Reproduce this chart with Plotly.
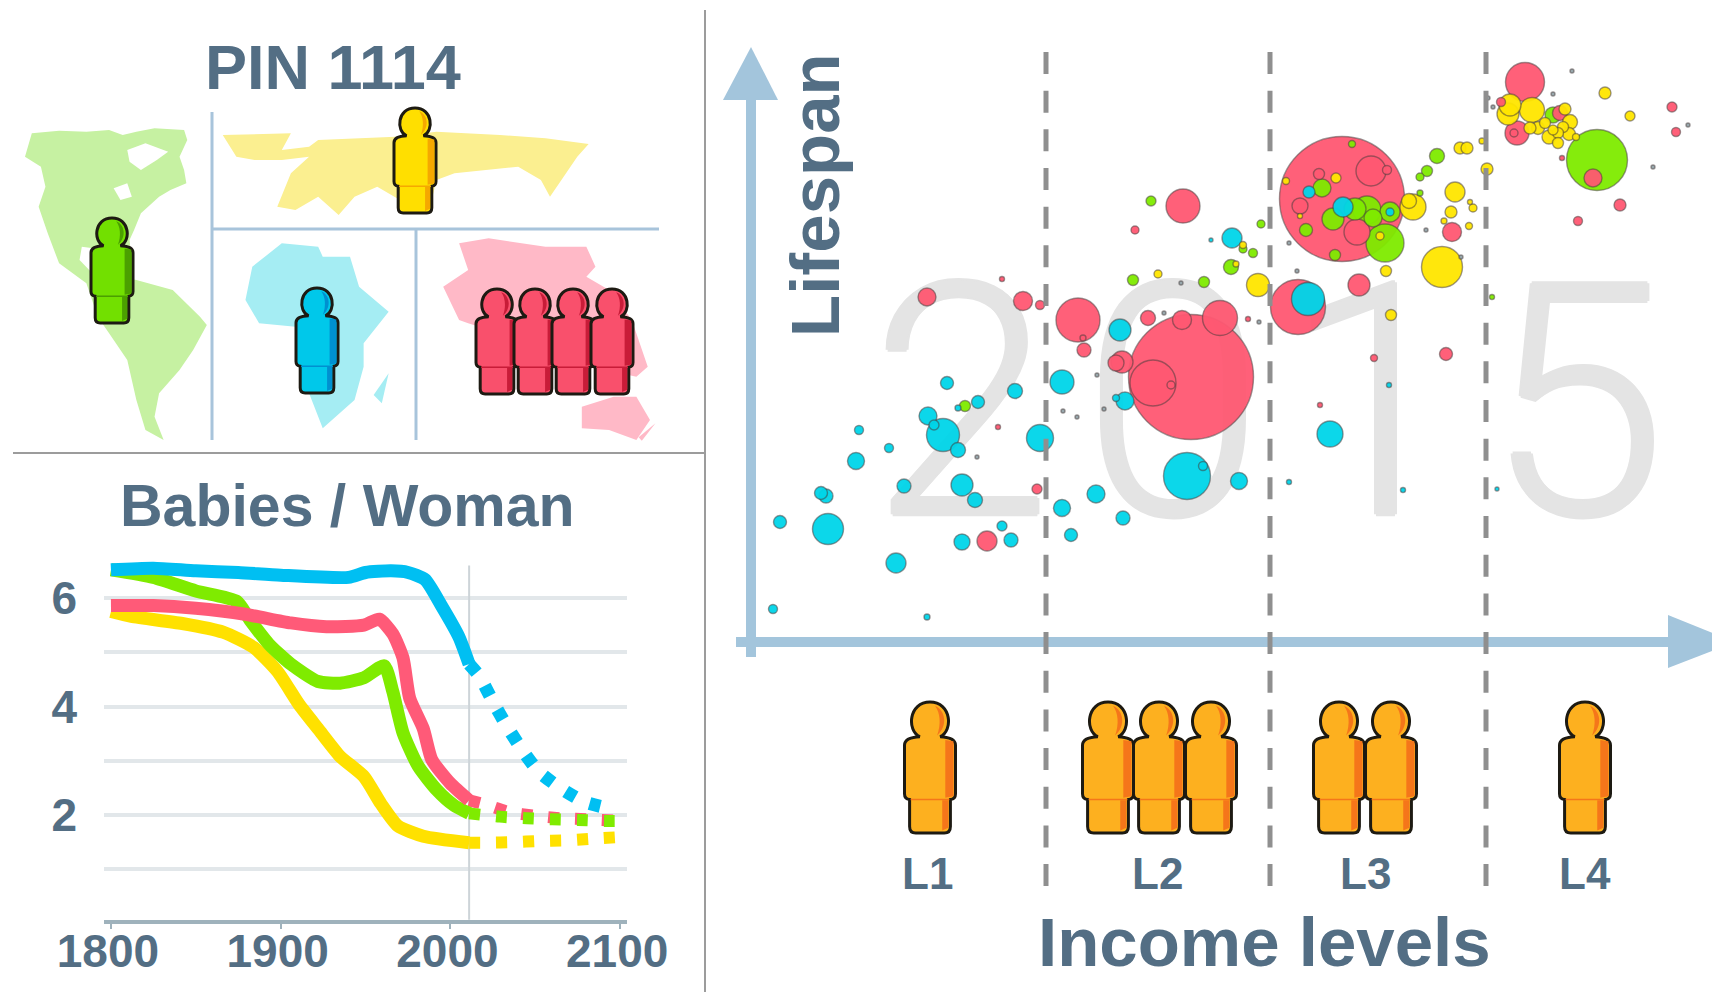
import plotly.graph_objects as go

W, H = 1712, 992
INK = "#536e84"
FONT = "Liberation Sans"
ARROW = "#a3c5dc"

# ---------- Babies / Woman ----------
year_ticks = [1800, 1900, 2000, 2100]
baby_ticks = [1, 2, 3, 4, 5, 6]
baby_labels = ["", "2", "", "4", "", "6"]
now_year = 2011

africa_year = [1800, 1825, 1850, 1875, 1900, 1940, 1950, 1965, 1975, 1985, 1995, 2005, 2011]
africa_baby = [6.52, 6.55, 6.50, 6.47, 6.42, 6.38, 6.47, 6.50, 6.47, 6.34, 5.84, 5.28, 4.78]
africa_year_f = [2011, 2017, 2025, 2033, 2042, 2052, 2065, 2079, 2095]
africa_baby_f = [4.78, 4.56, 4.09, 3.65, 3.21, 2.80, 2.49, 2.24, 2.11]

americas_year = [1800, 1825, 1850, 1874, 1882, 1893, 1906, 1922, 1935, 1949, 1961, 1966, 1972, 1981, 1992, 2002, 2011]
americas_baby = [6.52, 6.38, 6.13, 5.94, 5.59, 5.15, 4.78, 4.46, 4.43, 4.53, 4.75, 4.28, 3.52, 2.90, 2.46, 2.18, 2.03]
americas_year_f = [2011, 2029, 2045, 2060, 2075, 2091, 2103]
americas_baby_f = [2.03, 1.97, 1.94, 1.92, 1.91, 1.89, 1.89]

asia_year = [1800, 1825, 1850, 1879, 1906, 1927, 1949, 1958, 1966, 1972, 1976, 1984, 1989, 2000, 2011]
asia_baby = [5.86, 5.86, 5.81, 5.70, 5.54, 5.47, 5.50, 5.61, 5.34, 4.90, 4.15, 3.59, 3.02, 2.58, 2.27]
asia_year_f = [2011, 2020, 2035, 2049, 2065, 2082, 2096]
asia_baby_f = [2.27, 2.20, 2.05, 1.99, 1.94, 1.92, 1.90]

europe_year = [1800, 1812, 1842, 1866, 1884, 1898, 1911, 1922, 1935, 1949, 1959, 1969, 1984, 2011]
europe_baby = [5.75, 5.66, 5.53, 5.37, 5.09, 4.65, 4.03, 3.59, 3.08, 2.71, 2.21, 1.80, 1.61, 1.49]
europe_year_f = [2011, 2021, 2037, 2052, 2067, 2082, 2098]
europe_baby_f = [1.49, 1.49, 1.50, 1.52, 1.53, 1.56, 1.59]

# ---------- Bubbles: income index, lifespan, population size ----------
income_cuts = [30.6, 53.0, 74.6]
income_labels = ["L1", "L2", "L3", "L4"]
year_digits = ["2", "0", "1", "5"]
year_digit_inc = [22.1, 43.3, 63.5, 83.6]
year_digit_life = [46.7, 46.7, 46.7, 46.7]

asia_inc = [60.2, 45.1, 63.1, 64.7, 57.9, 56.0, 61.7, 55.8, 61.9, 48.0, 71.2, 78.5, 77.7, 77.4, 76.1, 82.0, 82.2, 85.3, 93.2, 93.6, 88.0, 83.8, 50.8, 44.3, 39.5, 18.7, 28.3, 30.0, 26.2, 33.8, 40.8, 44.2, 24.7, 29.7, 41.3, 43.1, 38.2, 37.6, 34.4, 34.3, 25.8, 63.4, 70.6, 58.0]
asia_life = [70.1, 52.3, 72.9, 73.0, 72.6, 69.4, 66.8, 59.3, 61.5, 58.2, 66.8, 81.8, 76.7, 76.7, 79.8, 78.7, 74.2, 72.2, 79.3, 76.8, 69.5, 67.9, 58.1, 69.4, 67.0, 60.3, 59.9, 59.5, 62.1, 58.0, 58.2, 58.0, 35.9, 41.1, 51.7, 51.5, 53.8, 53.7, 55.0, 56.2, 47.3, 54.2, 54.6, 49.5]
asia_pop = [125, 125, 30, 9, 11, 16, 26, 55, 22, 35, 19, 39, 24, 8, 9, 15, 5, 18, 10, 9, 12, 9, 5, 34, 8, 18, 19, 9, 5, 44, 15, 19, 20, 10, 46, 8, 22, 16, 14, 6, 5, 7, 13, 5]

africa_inc = [60.3, 56.9, 65.0, 49.2, 47.1, 56.8, 20.7, 23.8, 27.5, 18.8, 20.3, 19.4, 21.8, 11.9, 14.9, 11.6, 16.4, 22.2, 23.5, 30.0, 32.2, 38.5, 37.6, 44.7, 46.3, 35.6, 32.2, 38.3, 33.1, 8.1, 8.6, 4.0, 8.8, 15.6, 22.2, 27.1, 26.2, 3.3, 18.7, 38.0, 21.8, 49.9, 59.0, 54.9, 64.9, 66.3, 75.7]
africa_life = [69.3, 70.8, 68.8, 66.2, 66.0, 60.1, 51.7, 49.8, 50.9, 48.4, 46.5, 47.5, 45.0, 47.0, 45.2, 43.9, 41.4, 41.5, 40.0, 46.2, 51.8, 49.9, 50.2, 42.4, 43.4, 40.6, 39.2, 38.2, 36.5, 40.7, 40.4, 37.8, 37.1, 33.7, 35.8, 36.0, 37.4, 29.1, 28.3, 57.0, 49.2, 41.9, 46.6, 41.8, 51.5, 41.0, 41.1]
africa_pop = [20, 12, 8, 20, 4, 33, 13, 13, 15, 18, 33, 10, 15, 9, 9, 17, 14, 22, 15, 27, 24, 18, 7, 47, 9, 18, 17, 14, 13, 13, 14, 13, 31, 20, 16, 14, 10, 9, 6, 22, 6, 17, 26, 5, 5, 5, 4]

americas_inc = [85.7, 69.7, 68.7, 68.0, 68.0, 65.0, 62.7, 63.3, 59.3, 64.5, 58.2, 56.6, 59.5, 61.2, 49.1, 50.3, 51.3, 52.1, 46.4, 81.3, 75.2, 41.1, 39.3, 22.5, 61.5]
americas_life = [74.0, 74.4, 72.9, 72.3, 70.7, 68.8, 69.0, 68.2, 68.1, 65.7, 71.2, 67.0, 64.5, 75.6, 63.3, 65.1, 64.7, 67.6, 61.8, 78.5, 60.3, 69.9, 62.0, 49.4, 69.1]
americas_pop = [61, 15, 11, 8, 6, 20, 28, 18, 22, 38, 18, 13, 11, 7, 15, 8, 9, 8, 11, 16, 5, 10, 11, 11, 22]

europe_inc = [67.3, 66.9, 71.5, 71.1, 73.3, 73.0, 72.9, 70.4, 70.2, 64.6, 65.1, 51.8, 64.0, 59.6, 54.6, 56.0, 72.0, 72.7, 74.2, 74.7, 76.8, 77.0, 79.2, 86.5, 89.0, 82.5, 83.0, 82.9, 82.3, 81.8, 80.9, 81.8, 79.8, 80.5, 79.0, 83.6, 81.3, 50.3, 49.6, 41.8]
europe_life = [69.3, 69.9, 70.8, 68.8, 69.2, 69.8, 67.4, 67.9, 63.3, 62.9, 58.5, 61.5, 66.4, 72.2, 71.9, 68.4, 75.2, 75.2, 75.9, 73.1, 78.6, 79.5, 79.0, 80.7, 78.4, 79.1, 77.8, 76.6, 77.3, 76.7, 76.3, 75.7, 77.2, 77.7, 77.2, 76.3, 77.0, 65.5, 63.6, 62.6]
europe_pop = [26, 15, 20, 12, 8, 5, 7, 6, 41, 11, 11, 23, 8, 10, 7, 5, 12, 12, 6, 12, 22, 22, 25, 12, 10, 12, 15, 13, 11, 11, 14, 11, 13, 11, 12, 7, 10, 7, 6, 8]

tiny_inc = [83.2, 81.3, 91.3, 94.8, 68.6, 55.7, 54.9, 74.8, 75.3, 72.1, 44.1, 42.4, 23.7, 32.3, 33.7, 36.4, 35.7, 51.9]
tiny_life = [82.9, 80.6, 73.3, 77.5, 67.0, 62.9, 65.7, 80.2, 79.3, 64.3, 61.7, 58.7, 44.3, 48.9, 48.3, 49.1, 52.5, 57.8]
tiny_pop = [4] * len(tiny_inc)

C_ASIA, C_AFRICA, C_AMERICAS, C_EUROPE = "#ff5872", "#00d5e9", "#7feb00", "#ffe600"
TINY = "#93a3a8"

map_americas = [(55,470),(70,400),(130,392),(190,395),(240,390),(270,405),(300,395),(340,385),(405,390),(412,420),(395,470),(405,510),(410,550),(375,570),(350,590),(310,640),(295,690),(285,720),(290,790),(240,770),(205,745),(180,740),(175,780),(200,815),(300,840),(380,870),(440,950),(455,975),(425,1050),(395,1110),(350,1180),(340,1250),(360,1320),(320,1290),(300,1200),(280,1080),(240,1000),(215,950),(190,850),(130,790),(105,700),(85,620),(100,560),(90,500)]
map_hudson = [(280,450),(320,430),(370,455),(345,480),(310,510),(285,485)]
map_lakes = [(250,565),(280,550),(290,590),(265,600)]
map_europe = [(490,405),(640,400),(620,450),(680,440),(700,420),(870,410),(960,395),(1100,405),(1200,415),(1295,432),(1270,470),(1240,530),(1210,590),(1190,540),(1140,500),(1000,520),(960,540),(950,600),(880,600),(830,560),(780,590),(745,645),(700,590),(650,630),(610,620),(640,520),(680,470),(620,480),(560,480),(520,470)]
map_africa = [(620,730),(700,740),(710,770),(770,770),(790,860),(855,935),(800,1030),(800,1100),(780,1200),(710,1285),(680,1180),(660,1100),(650,980),(570,970),(540,900),(555,800)]
map_madagascar = [(855,1120),(840,1210),(822,1185)]
map_asia = [(1010,730),(1075,715),(1200,740),(1290,740),(1310,800),(1290,830),(1340,870),(1390,960),(1425,1100),(1400,1130),(1300,1100),(1100,1000),(1030,970),(1010,960),(975,860),(1030,810)]
map_australia = [(1280,1220),(1350,1190),(1400,1190),(1430,1260),(1400,1320),(1340,1290),(1280,1285)]
map_nz = [(1442,1270),(1412,1322),(1405,1312)]


def P(x, y):
    return f"{x / W:.5f},{1 - y / H:.5f}"


def poly(points, sx=2.2, sy=3.0):
    return "M " + " L ".join(P(x / sx, y / sy) for x, y in points) + " Z"


def rect(x0, y0, x1, y1):
    return f"M {P(x0, y0)} L {P(x1, y0)} L {P(x1, y1)} L {P(x0, y1)} Z"


shapes = []


def add_path(path, fill, line=None, width=0, layer="above"):
    shapes.append(dict(type="path", xref="paper", yref="paper", path=path, fillcolor=fill,
                       line=dict(color=line or "rgba(0,0,0,0)", width=width), layer=layer))


def add_line(x0, y0, x1, y1, color, width, layer="above"):
    shapes.append(dict(type="line", xref="paper", yref="paper", x0=x0 / W, x1=x1 / W,
                       y0=1 - y0 / H, y1=1 - y1 / H, line=dict(color=color, width=width), layer=layer))


def person(cx, top, h, w, fill, shade):
    def p(dx, dy):
        return P(cx + dx * w, top + dy * h)
    sil = (f"M {p(-.2,.265)} C {p(-.46,.22)} {p(-.42,0)} {p(0,0)} C {p(.42,0)} {p(.46,.22)} {p(.2,.265)} "
           f"Q {p(.5,.27)} {p(.5,.33)} L {p(.5,.70)} Q {p(.5,.74)} {p(.4,.745)} L {p(.4,.95)} Q {p(.4,1)} {p(.28,1)} "
           f"L {p(-.28,1)} Q {p(-.4,1)} {p(-.4,.95)} L {p(-.4,.745)} Q {p(-.5,.74)} {p(-.5,.70)} L {p(-.5,.33)} "
           f"Q {p(-.5,.27)} {p(-.2,.265)} Z")
    add_path(sil, fill, "#1d1a12", 3)
    add_path(f"M {p(.3,.29)} L {p(.46,.30)} L {p(.46,.72)} L {p(.3,.73)} Z", shade)
    add_path(f"M {p(.24,.75)} L {p(.36,.75)} L {p(.36,.96)} L {p(.24,.98)} Z", shade)
    add_path(f"M {p(.1,.03)} C {p(.3,.06)} {p(.36,.18)} {p(.14,.255)} C {p(.22,.17)} {p(.2,.08)} {p(.1,.03)} Z", shade)
    add_line(cx - .38 * w, top + .745 * h, cx + .38 * w, top + .745 * h, shade, 1.5)


# Panel separators and region dividers
add_line(705, 10, 705, 992, "#9c9c9c", 2)
add_line(13, 453, 705, 453, "#9c9c9c", 2)

# Maps
for pts, col in [(map_americas, "#c6f1a2"), (map_europe, "#fbef90"), (map_africa, "#a5edf3"),
                 (map_madagascar, "#a5edf3"), (map_asia, "#ffb9c7"), (map_australia, "#ffb9c7"),
                 (map_nz, "#ffb9c7")]:
    add_path(poly(pts), col, layer="below")
add_path(poly(map_hudson), "white", layer="below")
add_path(poly(map_lakes), "white", layer="below")

add_line(212, 112, 212, 440, "#a8c4db", 3)
add_line(212, 229, 659, 229, "#a8c4db", 3)
add_line(416, 229, 416, 440, "#a8c4db", 3)

# Region people
person(415, 108, 105, 42, "#ffdf00", "#f5a800")
person(112, 218, 105, 42, "#72e000", "#4ba000")
person(317, 288, 105, 42, "#00c8ea", "#0090d0")
for cx in (497, 535, 573, 612):
    person(cx, 289, 105, 42, "#f9506c", "#c81c38")

# Income people
for cx in (930, 1108, 1159, 1211, 1339, 1391, 1585):
    person(cx, 702, 131, 51, "#fdb01f", "#f5761a")

# Arrows
add_path(rect(746, 95, 756, 657), ARROW)
add_path(f"M {P(751,47)} L {P(778,100)} L {P(723,100)} Z", ARROW)
add_path(rect(736, 637, 1675, 647), ARROW)
add_path(f"M {P(1668,615)} L {P(1735,642)} L {P(1668,668)} Z", ARROW)

# Income-level dividers on the bubble income scale
for c in income_cuts:
    shapes.append(dict(type="line", xref="x2", yref="paper", x0=c, x1=c, y0=1 - 52 / H, y1=1 - 886 / H,
                       line=dict(color="#8f8f8f", width=5, dash="22px,16.67px"), layer="above"))

fig = go.Figure()


def line_trace(xs, ys, color, width=13, dash=None):
    fig.add_trace(go.Scatter(x=xs, y=ys, mode="lines", cliponaxis=False, hoverinfo="skip",
                             line=dict(color=color, width=width, shape="spline", smoothing=0.6, dash=dash)))


L_CYAN, L_GREEN, L_RED, L_YEL = "#00bff2", "#7feb00", "#ff5a78", "#ffe100"
fig.add_trace(go.Scatter(x=[now_year, now_year], y=[0.07, 6.6], mode="lines", hoverinfo="skip",
                         line=dict(color="#cdd4d8", width=2)))
dot = "11px,16px"
line_trace(africa_year_f, africa_baby_f, L_CYAN, 13, dot)
line_trace(asia_year_f, asia_baby_f, L_RED, 12, dot)
line_trace(americas_year_f, americas_baby_f, L_GREEN, 12, dot)
line_trace(europe_year_f, europe_baby_f, L_YEL, 12, dot)
line_trace(europe_year, europe_baby, L_YEL)
line_trace(americas_year, americas_baby, L_GREEN)
line_trace(asia_year, asia_baby, L_RED)
line_trace(africa_year, africa_baby, L_CYAN)

# Year watermark behind the bubbles
WM = "#e4e4e4"
fig.add_trace(go.Scatter(x=year_digit_inc, y=year_digit_life, mode="text", text=year_digits, xaxis="x2", yaxis="y2",
                         textposition="middle center", hoverinfo="skip", cliponaxis=False,
                         textfont=dict(family="Roboto", size=325, color=WM, weight=300,
                                       shadow=f"2px 0 0 {WM},-2px 0 0 {WM},0 2px 0 {WM},0 -2px 0 {WM}")))

# Bubbles: largest first so small ones sit on top
rows = []
for xs, ys, ss, col in [(asia_inc, asia_life, asia_pop, C_ASIA), (africa_inc, africa_life, africa_pop, C_AFRICA),
                        (americas_inc, americas_life, americas_pop, C_AMERICAS), (europe_inc, europe_life, europe_pop, C_EUROPE),
                        (tiny_inc, tiny_life, tiny_pop, TINY)]:
    rows += [(x, y, s, col) for x, y, s in zip(xs, ys, ss)]
rows.sort(key=lambda r: -r[2])
fig.add_trace(go.Scatter(x=[r[0] for r in rows], y=[r[1] for r in rows], mode="markers", xaxis="x2", yaxis="y2",
                         cliponaxis=False, hoverinfo="skip",
                         marker=dict(size=[r[2] for r in rows], sizemode="diameter", color=[r[3] for r in rows],
                                     opacity=0.95, line=dict(color="rgba(70,60,60,0.55)", width=1.4))))

annotations = []


def label(text, x, y, size, angle=0):
    annotations.append(dict(text=text, xref="paper", yref="paper", x=x / W, y=1 - y / H, showarrow=False,
                            xanchor="center", yanchor="middle", textangle=angle,
                            font=dict(family=FONT, size=size, color=INK, weight="bold")))


label("PIN 1114", 333, 67, 63)
label("Babies / Woman", 347, 506, 59)
label("Lifespan", 816, 195, 69, -90)
label("Income levels", 1264, 942, 69)
for t, cx in zip(income_labels, (928, 1157, 1365, 1585)):
    label(t, cx, 873, 44)

tick_font = dict(family=FONT, size=46, color=INK, weight="bold")
fig.update_layout(
    template="none",
    width=W, height=H, autosize=False, margin=dict(l=0, r=0, t=0, b=0, pad=0, autoexpand=False),
    paper_bgcolor="white", plot_bgcolor="rgba(0,0,0,0)", showlegend=False,
    shapes=shapes, annotations=annotations,
    xaxis=dict(domain=[104 / W, 627 / W], range=[1795.9, 2104], tickvals=year_ticks, ticktext=[str(v) for v in year_ticks],
               showgrid=False, zeroline=False, showline=True, linecolor="#9fb2bc", linewidth=4, automargin=False,
               ticks="outside", ticklen=5, tickcolor="#9fb2bc", tickwidth=2, tickfont=tick_font, anchor="y",
               ticklabelstandoff=-17, ticklabelshift=-3),
    yaxis=dict(domain=[72 / H, 432 / H], range=[0.065, 6.7], tickvals=baby_ticks, ticktext=baby_labels,
               showgrid=True, gridcolor="#e2e7ea", gridwidth=3.5, zeroline=False, showline=False, automargin=False,
               ticks="", ticklabelstandoff=26, tickfont=tick_font, anchor="x"),
    xaxis2=dict(domain=[740 / W, 1.0], range=[0, 97.2], visible=False, anchor="y2", automargin=False),
    yaxis2=dict(domain=[342 / H, 962 / H], range=[25, 87], visible=False, anchor="x2", automargin=False),
)

fig.write_html("out.html", config=dict(displayModeBar=False),
               post_script="document.body.style.margin='0';document.body.style.overflow='hidden';")
